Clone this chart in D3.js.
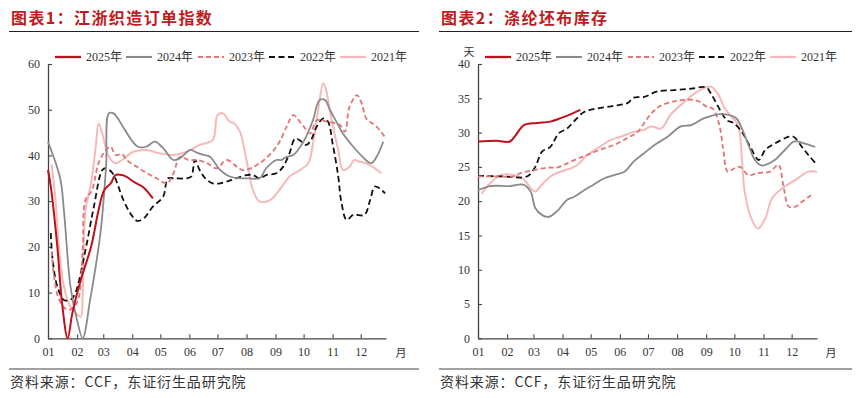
<!DOCTYPE html>
<html><head><meta charset="utf-8">
<script src="https://cdn.jsdelivr.net/npm/d3@7"></script>
<style>
html,body{margin:0;padding:0;background:#fff;}
svg{display:block;}
</style>
</head><body>
<svg id="chart" width="860" height="398"></svg>
<script>
// ---------- DATA (x = days since 1 Jan, y = value) ----------
const years = ["2025年", "2024年", "2023年", "2022年", "2021年"];
const monthLabels = ["01","02","03","04","05","06","07","08","09","10","11","12"];
const titles = ["图表1：江浙织造订单指数", "图表2：涤纶坯布库存"];
const sourceText = "资料来源：CCF，东证衍生品研究院";

// Chart 1: 江浙织造订单指数
const order2025 = [[0,36.8],[3,33.2],[10,20],[15,7.7],[21,0],[26,5.5],[35,12.8],[46,20],[54,28],[60,32.4],[67,33.9],[72,35.7],[79,35.7],[84,35.3],[91,34.3],[102,33],[112,30.6]];
const order2024 = [[0,43],[13,35],[17,28],[24,11.3],[31,4],[37,0],[45,8.4],[56,23],[62,37.5],[65,49.2],[70,49.2],[80,46.3],[89,43.4],[96,41.9],[105,41.9],[114,43],[123,41.6],[134,39],[141,39.4],[152,41.2],[159,40.6],[166,40.1],[173,39.7],[184,36.8],[194,35.4],[205,35],[215,35],[226,35],[233,37.2],[244,39],[249,39],[255,39.7],[262,40.1],[267,41.2],[274,43.4],[283,47.7],[290,52.1],[296,52.1],[301,50],[308,47.4],[315,44.8],[326,41.9],[336,39.7],[345,38.3],[351,39.7],[358,43]];
const order2023 = [[4,19],[6,14.2],[12,8.4],[21,6.2],[28,6.9],[33,9.1],[37,19.3],[40,30.2],[47,32.4],[54,38.3],[62,41.2],[67,41.9],[72,40.1],[79,40.3],[84,39],[95,37.5],[106,36.1],[116,35],[127,33.9],[134,36.1],[141,39.7],[150,39],[159,39],[170,38.3],[180,37.2],[191,39],[208,36.8],[226,38.3],[244,41.9],[255,46.3],[262,48.8],[272,46.6],[280,44.8],[287,47.7],[298,47.4],[312,46.6],[317,45.2],[322,50.6],[330,53.2],[335,51.4],[340,48.1],[351,46.3],[360,44]];
const order2022 = [[3,23],[5,17.1],[10,11.3],[17,8.4],[24,8.4],[29,9.8],[40,19.3],[49,28.8],[58,36.8],[62,37.2],[69,36.1],[74,33.9],[79,31],[88,27.3],[95,25.7],[102,26.2],[112,28.8],[123,31],[128,35],[134,35],[148,35],[153,35.4],[157,39],[162,36.8],[168,35],[176,33.9],[184,33.9],[191,34.3],[201,35],[212,35.7],[219,35.7],[226,35],[233,35.7],[244,36.1],[251,37.5],[258,40.5],[264,43.7],[271,43],[276,42.3],[281,43.4],[287,46.3],[294,48.1],[299,47.4],[304,42.6],[310,35.4],[313,30.2],[319,25.9],[326,27],[338,27],[344,30.2],[349,33.2],[354,32.8],[360,31.7]];
const order2021 = [[4,38],[8,30.2],[12,19.3],[17,11.3],[24,6.9],[30,5.5],[35,4.7],[37,9.8],[40,28],[46,33.9],[51,41.9],[54,47],[58,44.8],[65,39.7],[72,38.3],[79,39],[91,40.8],[105,41.2],[119,40.5],[134,40.1],[148,40.8],[162,42.3],[176,43.4],[181,48.8],[187,49.2],[194,47.4],[199,47],[205,45.2],[212,39],[219,32.4],[226,29.9],[237,30.2],[247,32.4],[258,35.4],[269,36.8],[278,38.3],[283,42.6],[288,49.2],[294,55.8],[297,54.3],[303,47.7],[310,41.2],[315,36.8],[322,37.5],[327,39],[333,38.6],[340,38.3],[347,37.5],[356,36.1]];

// Chart 2: 涤纶坯布库存 (天)
const stock2025 = [[0,28.7],[20,28.8],[34,28.7],[40,29.6],[49,31.1],[63,31.4],[77,31.6],[88,32.1],[99,32.7],[109,33.3]];
const stock2024 = [[0,21.6],[13,22.2],[34,22.2],[48,22.4],[56,21.4],[61,19],[68,18],[75,17.7],[84,18.5],[95,20.2],[102,20.6],[113,21.6],[123,22.4],[134,23.3],[145,23.8],[156,24.3],[166,25.8],[177,27],[188,28.2],[202,29.4],[216,30.9],[227,31.1],[241,32.1],[259,32.7],[275,32.1],[281,30.6],[288,28.2],[295,26],[302,25.2],[316,26],[327,27.5],[337,28.7],[348,28.4],[359,27.9]];
const stock2023 = [[0,23.6],[20,23.6],[38,23.6],[45,24.1],[59,24.5],[74,24.9],[84,24.9],[95,25.5],[106,26.2],[116,26.7],[130,27.5],[145,28.2],[159,29.2],[170,30.1],[179,31.8],[186,33],[193,33.8],[207,34.5],[227,34.8],[236,34.5],[243,33.8],[250,33.5],[257,31.1],[261,27.7],[266,24.3],[273,24.8],[279,25],[288,23.8],[298,24.1],[311,24.3],[320,25.3],[325,22.4],[331,19.2],[338,19.2],[345,19.9],[352,20.6],[357,21.1]];
const stock2022 = [[0,23.7],[27,23.6],[52,23.6],[61,25],[68,27.2],[77,27.9],[86,29.9],[95,30.6],[102,31.6],[113,33],[127,33.5],[145,33.9],[159,34.3],[166,35.1],[177,35.2],[191,36],[209,36.2],[227,36.4],[243,36.6],[248,35.7],[259,33],[265,31.8],[272,31.4],[281,30.1],[290,27.9],[299,26],[306,27.5],[316,28.4],[331,29.4],[336,29.4],[345,27.9],[352,26.7],[361,25.3]];
const stock2021 = [[4,21.1],[13,22.6],[24,23.8],[38,23.8],[48,23.3],[56,21.9],[61,21.4],[68,22.4],[77,23.6],[88,24.3],[99,24.8],[106,25.3],[116,26.7],[127,27.7],[141,28.9],[152,29.4],[166,30.1],[177,30.4],[184,30.9],[195,30.6],[205,32.6],[220,34.5],[234,36],[248,36.7],[256,35.5],[263,33.5],[270,32.3],[277,31.1],[281,26.2],[284,21.4],[291,17.5],[298,16],[306,17.5],[313,20.4],[324,21.9],[338,23.1],[352,24.3],[361,24.3]];

const yMax = [60, 40];
const yStep = [10, 5];
const yUnit = ["", "天"];

// ---------- STYLE ----------
const styles = [
  {color:"#c0101a", width:2.0, dash:null},
  {color:"#8a8a8a", width:1.8, dash:null},
  {color:"#e07676", width:1.8, dash:"5,3"},
  {color:"#111111", width:1.8, dash:"6,3.5"},
  {color:"#f6b9b9", width:2.0, dash:null}
];
const serif = "'Liberation Serif','Noto Sans CJK SC',serif";
const cjk = "'Noto Sans CJK SC',sans-serif";

const svg = d3.select("#chart");
const baseYear = new Date(2023, 0, 1);
const toDate = d => d3.timeDay.offset(baseYear, d);

const panels = [
  {series:[order2025, order2024, order2023, order2022, order2021]},
  {series:[stock2025, stock2024, stock2023, stock2022, stock2021]}
];

panels.forEach((p, i) => {
  const g = svg.append("g").attr("transform", `translate(${i*430},0)`);
  const left = 48, right = i === 0 ? 386 : 387, top = 64, bottom = 338.3;

  // title
  g.append("text").attr("x", 11).attr("y", 24)
    .attr("font-family", cjk).attr("font-weight", "bold").attr("font-size", 16)
    .attr("letter-spacing", 1.4).attr("fill", "#bf1b22").text(titles[i]);
  g.append("line").attr("x1", 9).attr("x2", i === 0 ? 419 : 422).attr("y1", 31.5).attr("y2", 31.5)
    .attr("stroke", "#222").attr("stroke-width", 1.2);

  const x = d3.scaleTime().domain([baseYear, toDate(361)]).range([left, right]);
  const y = d3.scaleLinear().domain([0, yMax[i]]).range([bottom, top]);

  // axes
  const xAxis = d3.axisBottom(x)
    .tickValues(d3.timeMonth.range(baseYear, toDate(362)))
    .tickFormat((d, k) => monthLabels[k])
    .tickSize(-4).tickSizeOuter(0).tickPadding(9);
  const yAxis = d3.axisLeft(y)
    .tickValues(d3.range(0, yMax[i] + 0.001, yStep[i]))
    .tickSize(-4).tickSizeOuter(0).tickPadding(8);

  const gx = g.append("g").attr("transform", `translate(0,${bottom})`).call(xAxis);
  const gy = g.append("g").attr("transform", `translate(${left},0)`).call(yAxis);
  [gx, gy].forEach(a => {
    a.select(".domain").attr("stroke", "#444").attr("stroke-width", 1.3);
    a.selectAll(".tick line").attr("stroke", "#444").attr("stroke-width", 1.1);
    a.selectAll(".tick text").attr("font-family", serif).attr("font-size", 12).attr("fill", "#333");
  });

  g.append("text").attr("x", 401).attr("y", 357).attr("text-anchor", "middle")
    .attr("font-family", cjk).attr("font-size", 11).attr("fill", "#333").text("月");
  if (yUnit[i]) {
    g.append("text").attr("x", 39).attr("y", 56).attr("text-anchor", "middle")
      .attr("font-family", cjk).attr("font-size", 11).attr("fill", "#333").text(yUnit[i]);
  }

  // lines
  const line = d3.line()
    .x(d => x(toDate(d[0]))).y(d => y(d[1]))
    .curve(d3.curveCatmullRom.alpha(0.5));
  const order = [4, 3, 2, 1, 0];
  order.forEach(k => {
    const s = styles[k];
    g.append("path").datum(p.series[k]).attr("d", line)
      .attr("fill", "none").attr("stroke", s.color).attr("stroke-width", s.width)
      .attr("stroke-dasharray", s.dash).attr("stroke-linejoin", "round");
  });

  // legend
  const legX = [55, 126, 198, 269, 340];
  years.forEach((yr, k) => {
    const s = styles[k];
    g.append("line").attr("x1", legX[k]).attr("x2", legX[k] + 26).attr("y1", 57).attr("y2", 57)
      .attr("stroke", s.color).attr("stroke-width", s.width + 0.3).attr("stroke-dasharray", s.dash);
    g.append("text").attr("x", legX[k] + 31).attr("y", 61)
      .attr("font-family", serif).attr("font-size", 12).attr("fill", "#333").text(yr);
  });

  // bottom rule and source
  g.append("line").attr("x1", 9).attr("x2", i === 0 ? 419 : 422).attr("y1", 369).attr("y2", 369)
    .attr("stroke", "#444").attr("stroke-width", 1.2);
  g.append("text").attr("x", 10).attr("y", 387)
    .attr("font-family", cjk).attr("font-size", 14).attr("letter-spacing", 0.9)
    .attr("fill", "#333").text(sourceText);
});
</script>
</body></html>
